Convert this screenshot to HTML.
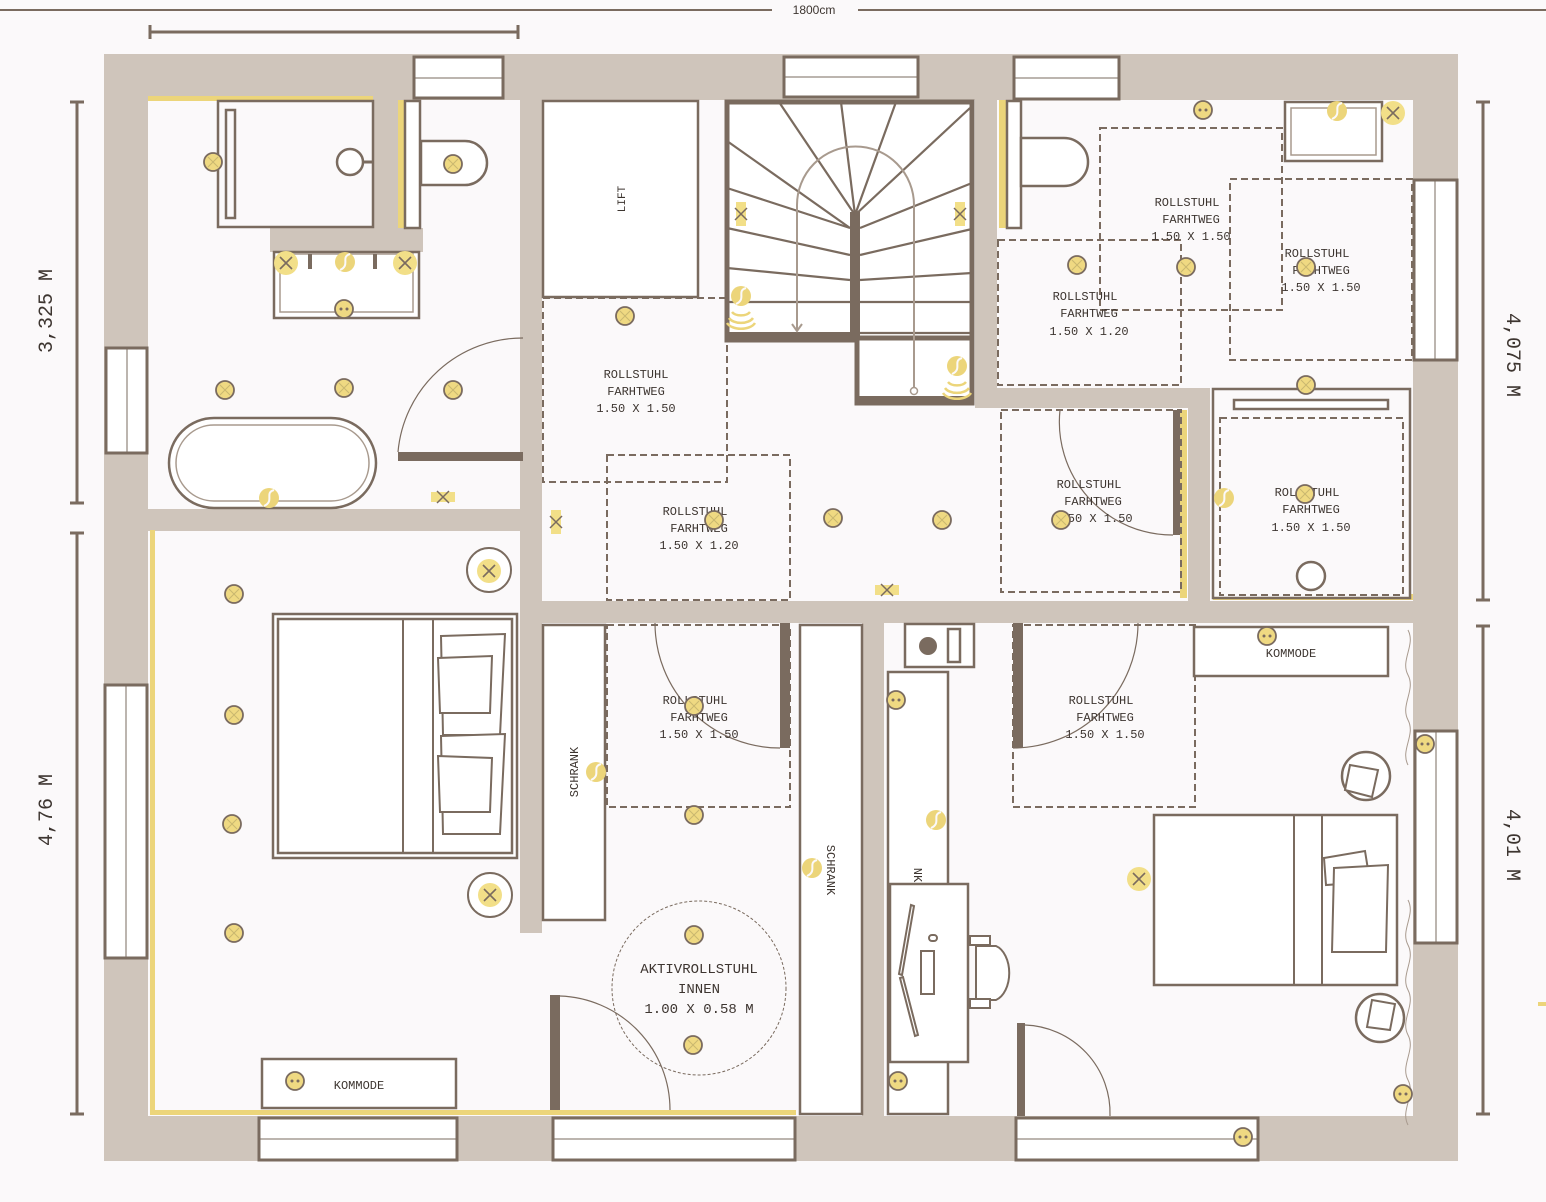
<!DOCTYPE html>
<html><head><meta charset="utf-8"><style>
html,body{margin:0;padding:0;background:#fbf9fa;}
svg{display:block}
text{font-family:"Liberation Mono",monospace;fill:#3d3530;}
</style></head><body>
<svg width="1546" height="1202" viewBox="0 0 1546 1202" xmlns="http://www.w3.org/2000/svg">
<defs>
<g id="lamp"><circle r="9" fill="#efd982" stroke="#7a6b5f" stroke-width="1.8"/><path d="M-5,-5L5,5M5,-5L-5,5" stroke="#c9b770" stroke-width="1"/></g>
<g id="bigx"><circle r="12" fill="#f2df88"/><path d="M-6,-6L6,6M6,-6L-6,6" stroke="#7a6b5f" stroke-width="1.6"/></g>
<g id="sock"><circle r="9" fill="#efd982" stroke="#7a6b5f" stroke-width="1.8"/><circle cx="-3" cy="0" r="1.5" fill="#7a6b5f"/><circle cx="3" cy="0" r="1.5" fill="#7a6b5f"/></g>
<g id="sw"><circle r="10" fill="#ecd57a"/><path d="M5,-8C-5,-5 6,3 -5,8" stroke="#fbf9fa" stroke-width="2" fill="none"/></g>
<g id="mk"><rect x="-5" y="-12" width="10" height="24" fill="#f2df88"/><path d="M-6,-6L6,6M6,-6L-6,6" stroke="#7a6b5f" stroke-width="1.5"/></g>
<g id="mkh"><rect x="-12" y="-5" width="24" height="10" fill="#f2df88"/><path d="M-6,-6L6,6M6,-6L-6,6" stroke="#7a6b5f" stroke-width="1.5"/></g>
</defs>

<!-- top dimension -->
<line x1="0" y1="10" x2="772" y2="10" stroke="#7a6b5f" stroke-width="2"/>
<line x1="858" y1="10" x2="1546" y2="10" stroke="#7a6b5f" stroke-width="2"/>
<text x="814" y="14" font-family="Liberation Sans" font-size="12" text-anchor="middle" style="font-family:'Liberation Sans',sans-serif">1800cm</text>
<line x1="150" y1="32" x2="518" y2="32" stroke="#7a6b5f" stroke-width="3"/>
<line x1="150" y1="25" x2="150" y2="39" stroke="#7a6b5f" stroke-width="3"/>
<line x1="518" y1="25" x2="518" y2="39" stroke="#7a6b5f" stroke-width="3"/>

<!-- side dims -->
<g stroke="#7a6b5f" stroke-width="3">
<line x1="77" y1="102" x2="77" y2="503"/><line x1="70" y1="102" x2="84" y2="102"/><line x1="70" y1="503" x2="84" y2="503"/>
<line x1="77" y1="533" x2="77" y2="1114"/><line x1="70" y1="533" x2="84" y2="533"/><line x1="70" y1="1114" x2="84" y2="1114"/>
<line x1="1483" y1="102" x2="1483" y2="600"/><line x1="1476" y1="102" x2="1490" y2="102"/><line x1="1476" y1="600" x2="1490" y2="600"/>
<line x1="1483" y1="626" x2="1483" y2="1114"/><line x1="1476" y1="626" x2="1490" y2="626"/><line x1="1476" y1="1114" x2="1490" y2="1114"/>
</g>
<text font-size="20" text-anchor="middle" transform="translate(52,311) rotate(-90)">3,325 M</text>
<text font-size="20" text-anchor="middle" transform="translate(52,810) rotate(-90)">4,76 M</text>
<text font-size="20" text-anchor="middle" transform="translate(1507,355) rotate(90)">4,075 M</text>
<text font-size="20" text-anchor="middle" transform="translate(1507,845) rotate(90)">4,01 M</text>
<rect x="1538" y="1002" width="8" height="4" fill="#ecd57a"/>

<!-- walls -->
<rect x="104" y="54" width="1354" height="1107" fill="#cfc5bb"/>
<rect x="148" y="100" width="1265" height="1016" fill="#fbf9fa"/>
<g fill="#cfc5bb">
<rect x="520" y="100" width="22" height="833"/>
<rect x="148" y="509" width="394" height="22"/>
<rect x="520" y="601" width="893" height="22"/>
<rect x="975" y="100" width="22" height="308"/>
<rect x="975" y="388" width="235" height="20"/>
<rect x="1188" y="388" width="22" height="213"/>
<rect x="862" y="623" width="22" height="493"/>
<rect x="373" y="100" width="25" height="128"/>
<rect x="270" y="228" width="153" height="24"/>
</g>

<!-- windows -->
<g fill="#fff" stroke="#7a6b5f" stroke-width="3">
<rect x="414" y="57" width="89" height="41"/>
<rect x="784" y="57" width="134" height="40"/>
<rect x="1014" y="57" width="105" height="42"/>
<rect x="106" y="348" width="41" height="105"/>
<rect x="105" y="685" width="42" height="273"/>
<rect x="1414" y="180" width="43" height="180"/>
<rect x="1415" y="731" width="42" height="212"/>
<rect x="259" y="1118" width="198" height="42"/>
<rect x="553" y="1118" width="242" height="42"/>
<rect x="1016" y="1118" width="242" height="42"/>
</g>
<g stroke="#7a6b5f" stroke-width="1">
<line x1="414" y1="78" x2="503" y2="78"/><line x1="784" y1="77" x2="918" y2="77"/><line x1="1014" y1="78" x2="1119" y2="78"/>
<line x1="127" y1="348" x2="127" y2="453"/><line x1="126" y1="685" x2="126" y2="958"/>
<line x1="1435" y1="180" x2="1435" y2="360"/><line x1="1436" y1="731" x2="1436" y2="943"/>
<line x1="259" y1="1139" x2="457" y2="1139"/><line x1="553" y1="1139" x2="795" y2="1139"/><line x1="1016" y1="1139" x2="1258" y2="1139"/>
</g>

<!-- yellow strips -->
<g fill="#ecd57a">
<rect x="148" y="96" width="225" height="5"/>
<rect x="398" y="100" width="7" height="128"/>
<rect x="150" y="530" width="5" height="584"/>
<rect x="150" y="1110" width="646" height="5"/>
<rect x="999" y="100" width="8" height="128"/>
<rect x="1180" y="410" width="7" height="188"/>
<rect x="1213" y="594" width="200" height="6"/>
</g>

<g fill="none" stroke="#7a6b5f" stroke-width="2.5">
<!-- bathroom left -->
<rect x="218" y="101" width="155" height="126" fill="#fbf9fa"/>
<rect x="226" y="110" width="9" height="108"/>
<line x1="363" y1="162" x2="373" y2="162" stroke-width="3"/>
<circle cx="350" cy="162" r="13" fill="#fff"/>
<rect x="405" y="101" width="15" height="127" fill="#fff"/>
<path d="M421,141 H465 A22,22 0 0 1 465,185 H421 Z" fill="#fff"/>
<rect x="274" y="252" width="145" height="66" fill="#fff"/>
<rect x="280" y="254" width="133" height="58" stroke="#a89a8e" stroke-width="1.5"/>
<line x1="310" y1="254" x2="310" y2="269" stroke-width="4"/>
<line x1="375" y1="254" x2="375" y2="269" stroke-width="4"/>
<rect x="169" y="418" width="207" height="90" rx="45" fill="#fff"/>
<rect x="176" y="425" width="193" height="76" rx="38" stroke="#a89a8e" stroke-width="1.5"/>

<!-- lift -->
<rect x="543" y="101" width="155" height="196" fill="#fff"/>

<!-- stairs -->
<rect x="727" y="102" width="245" height="238" fill="#fff" stroke-width="5"/>
<rect x="857" y="338" width="115" height="65" fill="#fff" stroke-width="5"/>
<rect x="850" y="212" width="10" height="128" fill="#7a6b5f" stroke="none"/>
<rect x="727" y="332" width="130" height="9" fill="#7a6b5f" stroke="none"/>
<rect x="857" y="396" width="116" height="8" fill="#7a6b5f" stroke="none"/>
</g>
<g stroke="#7a6b5f" stroke-width="2.2">
<line x1="855" y1="215" x2="779" y2="102"/>
<line x1="855" y1="215" x2="841" y2="102"/>
<line x1="855" y1="215" x2="896" y2="102"/>
<line x1="855" y1="215" x2="970" y2="108"/>
<line x1="850" y1="228" x2="727" y2="141"/>
<line x1="850" y1="228" x2="727" y2="188"/>
<line x1="850" y1="255" x2="727" y2="228"/>
<line x1="850" y1="280" x2="727" y2="268"/>
<line x1="850" y1="302" x2="727" y2="302"/>
<line x1="860" y1="228" x2="972" y2="183"/>
<line x1="860" y1="255" x2="972" y2="229"/>
<line x1="860" y1="280" x2="972" y2="273"/>
<line x1="860" y1="302" x2="972" y2="302"/>
<line x1="860" y1="333" x2="972" y2="333"/>
</g>
<path d="M797,330 V205 A58,58 0 0 1 914,205 V388" fill="none" stroke="#a89a8e" stroke-width="2"/>
<path d="M792,324 L797,331 L802,324" fill="none" stroke="#a89a8e" stroke-width="2"/>
<circle cx="914" cy="391" r="3.5" fill="#fff" stroke="#a89a8e" stroke-width="1.5"/>

<!-- right bathroom -->
<g fill="none" stroke="#7a6b5f" stroke-width="2.5">
<rect x="1007" y="101" width="14" height="127" fill="#fff"/>
<path d="M1021,138 H1064 A24,24 0 0 1 1064,186 H1021 Z" fill="#fff"/>
<rect x="1285" y="102" width="97" height="59" fill="#fff"/>
<rect x="1291" y="108" width="85" height="47" stroke="#a89a8e" stroke-width="1.5"/>
<rect x="1213" y="389" width="197" height="209" fill="#fbf9fa"/>
<rect x="1234" y="400" width="154" height="9" fill="#fff"/>
<circle cx="1311" cy="576" r="14" fill="#fff"/>
</g>

<!-- doors -->
<g fill="#7a6b5f">
<rect x="398" y="452" width="125" height="9"/>
<rect x="1173" y="410" width="7" height="125"/>
<rect x="780" y="623" width="10" height="125"/>
<rect x="1013" y="623" width="10" height="125"/>
<rect x="550" y="995" width="10" height="115"/>
<rect x="1017" y="1023" width="8" height="93"/>
</g>
<g fill="none" stroke="#7a6b5f" stroke-width="1.2">
<path d="M398,452 A125,125 0 0 1 523,338"/>
<path d="M1060,410 A113,113 0 0 0 1173,535"/>
<path d="M655,623 A125,125 0 0 0 780,748"/>
<path d="M1138,623 A125,125 0 0 1 1013,748"/>
<path d="M560,996 A114,114 0 0 1 670,1110"/>
<path d="M1025,1025 A88,88 0 0 1 1110,1116"/>
</g>

<!-- dashed zones -->
<g fill="none" stroke="#7a6b5f" stroke-width="2" stroke-dasharray="7,4">
<rect x="543" y="298" width="184" height="184"/>
<rect x="607" y="455" width="183" height="145"/>
<rect x="1100" y="128" width="182" height="182"/>
<rect x="998" y="240" width="183" height="145"/>
<rect x="1230" y="179" width="182" height="181"/>
<rect x="1001" y="410" width="180" height="182"/>
<rect x="1220" y="418" width="183" height="177"/>
<rect x="607" y="625" width="183" height="182"/>
<rect x="1013" y="625" width="182" height="182"/>
</g>
<circle cx="699" cy="988" r="87" fill="none" stroke="#7a6b5f" stroke-width="1" stroke-dasharray="3,2"/>

<!-- bedroom left -->
<g fill="#fff" stroke="#7a6b5f" stroke-width="2.5">
<rect x="273" y="614" width="244" height="244"/>
<rect x="278" y="619" width="234" height="234"/>
<rect x="262" y="1059" width="194" height="49"/>
<rect x="543" y="625" width="62" height="295"/>
<rect x="800" y="625" width="62" height="489"/>
</g>
<g stroke="#7a6b5f" stroke-width="2" fill="#fff">
<line x1="403" y1="619" x2="403" y2="853"/><line x1="433" y1="619" x2="433" y2="853"/>
<path d="M441,636 L505,634 L500,735 L443,735 Z"/>
<path d="M438,658 L492,656 L490,713 L440,713 Z"/>
<path d="M441,736 L505,734 L500,834 L443,834 Z"/>
<path d="M438,756 L492,758 L490,812 L440,812 Z"/>
</g>
<circle cx="489" cy="570" r="22" fill="#fff" stroke="#7a6b5f" stroke-width="2"/>
<circle cx="490" cy="895" r="22" fill="#fff" stroke="#7a6b5f" stroke-width="2"/>

<!-- bedroom right -->
<g fill="#fff" stroke="#7a6b5f" stroke-width="2.5">
<rect x="905" y="624" width="69" height="43"/>
<rect x="948" y="629" width="12" height="33"/>
<rect x="888" y="672" width="60" height="442"/>
<rect x="890" y="884" width="78" height="178"/>
<rect x="1194" y="627" width="194" height="49"/>
<rect x="1154" y="815" width="243" height="170"/>
<circle cx="1366" cy="776" r="24"/>
<circle cx="1380" cy="1018" r="24"/>
</g>
<circle cx="928" cy="646" r="9" fill="#7a6b5f"/>
<g stroke="#7a6b5f" stroke-width="2" fill="#fff">
<line x1="1294" y1="815" x2="1294" y2="985"/><line x1="1322" y1="815" x2="1322" y2="985"/>
<path d="M1324,858 L1365,851 L1370,882 L1326,885 Z"/>
<path d="M1334,868 L1388,865 L1386,952 L1332,952 Z"/>
<path d="M1350,765 L1378,770 L1372,797 L1345,790 Z"/>
<path d="M1372,1000 L1395,1004 L1390,1030 L1367,1027 Z"/>
<rect x="921" y="951" width="13" height="43"/>
<rect x="929" y="935" width="8" height="6" rx="3"/>
<path d="M911,905 L899,974 L902,975 L914,906 Z"/>
<path d="M900,978 L915,1036 L918,1035 L903,977 Z"/>
<path d="M976,946 H996 A18,28 0 0 1 996,1000 H976 Z"/>
<rect x="970" y="936" width="20" height="9"/>
<rect x="970" y="999" width="20" height="9"/>
</g>
<path d="M1408,630 c8,15 -8,30 0,45 s-8,30 0,45 s-8,30 0,45 M1408,900 c8,15 -8,30 0,45 s-8,30 0,45 s-8,30 0,45 s-8,30 0,45 s-8,30 0,45" fill="none" stroke="#a89a8e" stroke-width="1"/>

<!-- labels -->
<g font-size="12" text-anchor="middle">
<text transform="translate(625,199) rotate(-90)" font-size="11">LIFT</text>
<text x="636" y="378">ROLLSTUHL</text><text x="636" y="395">FARHTWEG</text><text x="636" y="412">1.50 X 1.50</text>
<text x="695" y="515">ROLLSTUHL</text><text x="699" y="532">FARHTWEG</text><text x="699" y="549">1.50 X 1.20</text>
<text x="1187" y="206">ROLLSTUHL</text><text x="1191" y="223">FARHTWEG</text><text x="1191" y="240">1.50 X 1.50</text>
<text x="1085" y="300">ROLLSTUHL</text><text x="1089" y="317">FARHTWEG</text><text x="1089" y="335">1.50 X 1.20</text>
<text x="1317" y="257">ROLLSTUHL</text><text x="1321" y="274">FARHTWEG</text><text x="1321" y="291">1.50 X 1.50</text>
<text x="1089" y="488">ROLLSTUHL</text><text x="1093" y="505">FARHTWEG</text><text x="1093" y="522">1.50 X 1.50</text>
<text x="1307" y="496">ROLLSTUHL</text><text x="1311" y="513">FARHTWEG</text><text x="1311" y="531">1.50 X 1.50</text>
<text x="695" y="704">ROLLSTUHL</text><text x="699" y="721">FARHTWEG</text><text x="699" y="738">1.50 X 1.50</text>
<text x="1101" y="704">ROLLSTUHL</text><text x="1105" y="721">FARHTWEG</text><text x="1105" y="738">1.50 X 1.50</text>
<text x="359" y="1089">KOMMODE</text>
<text x="1291" y="657">KOMMODE</text>
<text transform="translate(578,772) rotate(-90)">SCHRANK</text>
<text transform="translate(827,870) rotate(90)">SCHRANK</text>
<text transform="translate(914,875) rotate(90)">NK</text>
</g>
<g font-size="14" text-anchor="middle">
<text x="699" y="973">AKTIVROLLSTUHL</text><text x="699" y="993">INNEN</text><text x="699" y="1013">1.00 X 0.58 M</text>
</g>

<!-- symbols -->
<use href="#lamp" x="213" y="162"/><use href="#lamp" x="453" y="164"/>
<use href="#lamp" x="225" y="390"/><use href="#lamp" x="344" y="388"/><use href="#lamp" x="453" y="390"/>
<use href="#lamp" x="625" y="316"/><use href="#lamp" x="714" y="520"/><use href="#lamp" x="833" y="518"/><use href="#lamp" x="942" y="520"/>
<use href="#lamp" x="1077" y="265"/><use href="#lamp" x="1186" y="267"/><use href="#lamp" x="1306" y="267"/>
<use href="#lamp" x="1061" y="520"/><use href="#lamp" x="1306" y="385"/><use href="#lamp" x="1305" y="494"/>
<use href="#lamp" x="234" y="594"/><use href="#lamp" x="234" y="715"/><use href="#lamp" x="232" y="824"/><use href="#lamp" x="234" y="933"/>
<use href="#lamp" x="694" y="706"/><use href="#lamp" x="694" y="815"/><use href="#lamp" x="694" y="935"/><use href="#lamp" x="693" y="1045"/>
<use href="#bigx" x="286" y="263"/><use href="#bigx" x="405" y="263"/><use href="#bigx" x="1393" y="113"/><use href="#bigx" x="1139" y="879"/>
<use href="#bigx" x="489" y="571"/><use href="#bigx" x="490" y="895"/>
<use href="#sock" x="344" y="309"/><use href="#sock" x="1203" y="110"/><use href="#sock" x="1267" y="636"/>
<use href="#sock" x="896" y="700"/><use href="#sock" x="898" y="1081"/><use href="#sock" x="295" y="1081"/>
<use href="#sock" x="1425" y="744"/><use href="#sock" x="1243" y="1137"/><use href="#sock" x="1403" y="1094"/>
<use href="#sw" x="345" y="262"/><use href="#sw" x="269" y="498"/><use href="#sw" x="1337" y="111"/><use href="#sw" x="1224" y="498"/>
<use href="#sw" x="596" y="772"/><use href="#sw" x="812" y="868"/><use href="#sw" x="936" y="820"/><use href="#sw" x="741" y="296"/><use href="#sw" x="957" y="366"/>
<g fill="none" stroke="#ecd57a" stroke-width="2.5">
<path d="M732,312 a10,6 0 0 0 18,0 M729,318 a13,8 0 0 0 24,0 M727,323 a15,9 0 0 0 28,0"/>
<path d="M948,382 a10,6 0 0 0 18,0 M945,388 a13,8 0 0 0 24,0 M943,393 a15,9 0 0 0 28,0"/>
</g>
<use href="#mk" x="741" y="214"/><use href="#mk" x="960" y="214"/><use href="#mk" x="556" y="522"/>
<use href="#mkh" x="443" y="497"/><use href="#mkh" x="887" y="590"/>
</svg>
</body></html>
